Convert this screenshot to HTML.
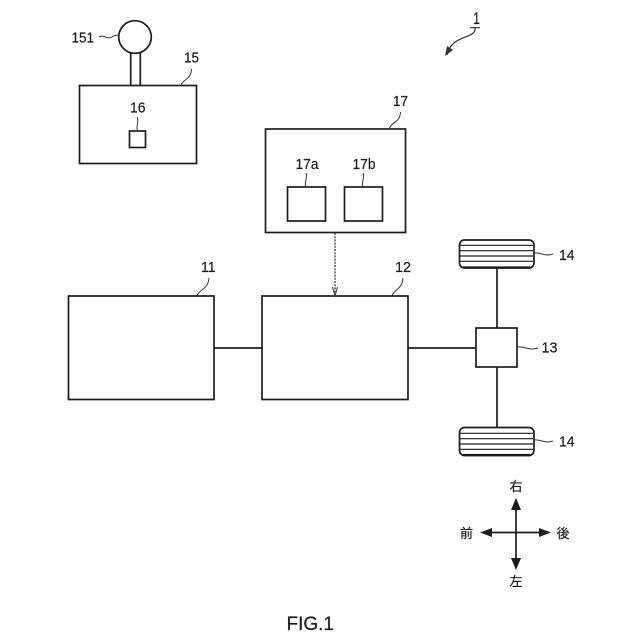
<!DOCTYPE html>
<html><head><meta charset="utf-8"><style>
html,body{margin:0;padding:0;background:#fff}
svg{display:block}
text{font-family:"Liberation Sans","Noto Sans CJK JP",sans-serif;fill:#1c1c1c;stroke:#1c1c1c;stroke-width:.2}
</style></head><body>
<svg width="640" height="640" viewBox="0 0 640 640" xmlns="http://www.w3.org/2000/svg">
<g fill="#fff" stroke="#1c1c1c" stroke-width="1.7">
<rect x="79.500" y="85.500" width="117" height="78"/>
<rect x="129.500" y="131" width="16" height="16.500"/>
<path d="M130.700 53V85M140.300 53V85" fill="none"/>
<circle cx="135" cy="37" r="16.300"/>
<rect x="265.500" y="129" width="140" height="103.500"/>
<rect x="287.500" y="187" width="38" height="34"/>
<rect x="344.500" y="187" width="38" height="34"/>
<rect x="68.500" y="296" width="145.500" height="103.500"/>
<rect x="262" y="296" width="146" height="103.500"/>
<path d="M214 348H262M408 348H476M497 268V328M497 367V427" fill="none"/>
<rect x="476" y="328" width="41" height="39"/>
<rect x="459.500" y="240" width="74.500" height="28" rx="5"/>
<rect x="459.500" y="427.500" width="74.500" height="28" rx="5"/>
<path d="M460 245.300H533M460 250.700H533M460 256H533M460 261.300H533M460 433.300H533M460 438.700H533M460 444H533M460 449.300H533" fill="none" stroke-width="1.200"/>
<path d="M463 267.500H530M463 455H530" fill="none" stroke-width="2.200"/>
</g>
<path d="M335 233V296" stroke="#444" stroke-width="1.400" stroke-dasharray="2 1.200" fill="none"/>
<path d="M332.500 287L335 296L337.500 287" stroke="#444" stroke-width="1.100" fill="none"/>
<g fill="none" stroke="#333" stroke-width="1">
<path d="M99 37C104 34 107 40 112 37S116 36 119 35"/>
<path d="M181 85C184 78 191 80 191.500 69"/>
<path d="M137.300 130C136 126 139 122 137.300 117"/>
<path d="M389 129C391 122 400 123 400.500 112"/>
<path d="M305.700 187C304 182 308 178 306 173"/>
<path d="M363 187C361 182 365 178 363 173"/>
<path d="M197 296C199 289 208 290 209 278"/>
<path d="M392 296C394 289 402 290 403 278"/>
<path d="M534 253C541 252 544 257 553 254"/>
<path d="M534 440C541 439 544 444 553 441"/>
<path d="M517 347C524 346 529 351 538 348"/>
</g>
<path d="M475 28C476 40 452 33 447 55" fill="none" stroke="#333" stroke-width="1.200"/>
<path d="M470 27.700H480" stroke="#333" stroke-width="1.200"/>
<path d="M445 56L447 46L453 50Z" fill="#333"/>
<g stroke="#1c1c1c" stroke-width="1.700"><path d="M516 505V562M488 532.500H544"/></g>
<g fill="#1c1c1c">
<path d="M516 498L511 510H521Z"/><path d="M516 570L511 558H521Z"/>
<path d="M480 532.500L492 528V537Z"/><path d="M551 532.500L539 528V537Z"/>
</g>
<g font-size="14.800" lengthAdjust="spacingAndGlyphs">
<text x="71.500" y="42.300" textLength="22.500" lengthAdjust="spacingAndGlyphs">151</text>
<text x="184" y="62.700" textLength="15" lengthAdjust="spacingAndGlyphs">15</text>
<text x="130" y="112.700" textLength="15.500" lengthAdjust="spacingAndGlyphs">16</text>
<text x="393" y="106" textLength="15" lengthAdjust="spacingAndGlyphs">17</text>
<text x="295.500" y="169" textLength="23" lengthAdjust="spacingAndGlyphs">17a</text>
<text x="352.500" y="169" textLength="23" lengthAdjust="spacingAndGlyphs">17b</text>
<text x="201" y="272" textLength="14.500" lengthAdjust="spacingAndGlyphs">11</text>
<text x="395" y="272" textLength="16" lengthAdjust="spacingAndGlyphs">12</text>
<text x="559" y="260" textLength="15.500" lengthAdjust="spacingAndGlyphs">14</text>
<text x="559" y="446.500" textLength="15.500" lengthAdjust="spacingAndGlyphs">14</text>
<text x="541.500" y="352.700" textLength="16" lengthAdjust="spacingAndGlyphs">13</text>
<text x="473" y="24" font-size="17" textLength="7" lengthAdjust="spacingAndGlyphs">1</text>
<text x="509.500" y="491" font-size="13">右</text>
<text x="509.500" y="586" font-size="13">左</text>
<text x="460" y="538" font-size="13">前</text>
<text x="556.500" y="538" font-size="13">後</text>
<text x="286.500" y="630" font-size="19" textLength="47.500" lengthAdjust="spacingAndGlyphs">FIG.1</text>
</g>
</svg>
</body></html>
